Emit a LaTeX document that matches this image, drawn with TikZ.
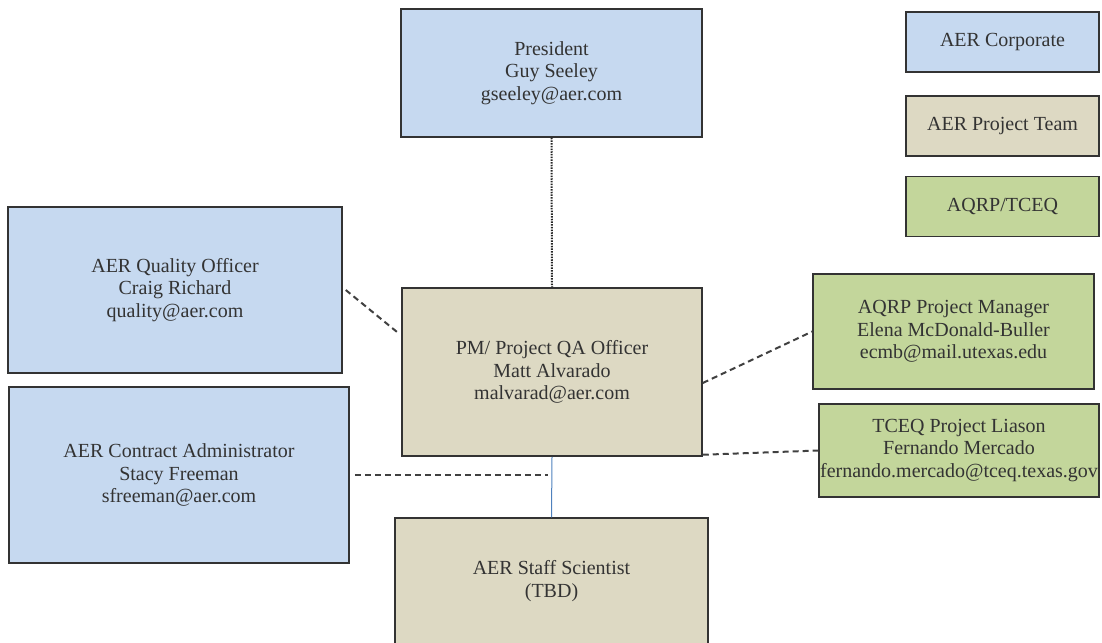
\documentclass[tikz,border=0pt]{standalone}
\usepackage{fontspec}
\setmainfont{Liberation Serif}
\usetikzlibrary{calc}
\definecolor{corpblue}{RGB}{198,217,240}
\definecolor{teamtan}{RGB}{221,217,195}
\definecolor{agencygreen}{RGB}{195,214,155}
\definecolor{linkblue}{RGB}{79,129,189}

\begin{document}
\begin{tikzpicture}[x=1pt, y=-1pt,
    box/.style={draw=black!80, line width=1.5pt, align=center, inner sep=0pt,
                text=black!80, font=\fontsize{20}{22.5}\selectfont},
    corp/.style={box, fill=corpblue},
    team/.style={box, fill=teamtan},
    agency/.style={box, fill=agencygreen},
    link/.style={draw=black!75, line width=2pt, dash pattern=on 6pt off 4pt}]
    \useasboundingbox (0,0) rectangle (1102,642);

    % AER corporate
    \node[corp, minimum width=301pt, minimum height=128pt] (pres) at (551.5,73)
        {President\\Guy Seeley\\gseeley@aer.com};
    \node[corp, minimum width=334pt, minimum height=166pt] (qual) at (175,290)
        {AER Quality Officer\\Craig Richard\\quality@aer.com};
    \node[corp, minimum width=340pt, minimum height=176pt] (admin) at (179,475)
        {AER Contract Administrator\\Stacy Freeman\\sfreeman@aer.com};

    % Project team
    \node[team, minimum width=300pt, minimum height=168pt] (pm) at (552,372)
        {PM/ Project QA Officer\\Matt Alvarado\\malvarad@aer.com};
    \node[team, minimum width=313pt, minimum height=126pt] (staff) at (551.5,581)
        {AER Staff Scientist\\(TBD)};

    % AQRP / TCEQ
    \node[agency, minimum width=281pt, minimum height=115pt] (aqrp) at (953.5,331.5)
        {AQRP Project Manager\\Elena McDonald-Buller\\ecmb@mail.utexas.edu};
    \node[agency, minimum width=280pt, minimum height=93pt] (tceq) at (959,450.5)
        {TCEQ Project Liason\\Fernando Mercado\\fernando.mercado@tceq.texas.gov};

    % Legend
    \node[corp, minimum width=193pt, minimum height=60pt] (keycorp) at (1002.5,42) {AER Corporate};
    \node[team, minimum width=193pt, minimum height=60pt] (keyteam) at (1002.5,126) {AER Project Team};
    \node[agency, minimum width=193pt, minimum height=60pt] (keyagency) at (1002.5,206.5) {AQRP/TCEQ};

    % Connectors
    \draw[black!85, line width=2pt, dash pattern=on 1.5pt off 1.2pt] (pres.south) -- (pm.north);
    \draw[linkblue, line width=1pt] (pm.south) -- (staff.north);
    \coordinate (join) at (pm.south |- admin.east);
    \draw[link] ([xshift=5pt]admin.east) -- ([xshift=-4pt]join);
    \draw[link] ([xshift=3pt]qual.east) -- ([xshift=-3pt,yshift=39pt]pm.west);
    \draw[link] ([yshift=-11pt]pm.east) -- (aqrp.west);
    \draw[link] ([yshift=2pt]pm.south east) -- (tceq.west);
\end{tikzpicture}
\end{document}
